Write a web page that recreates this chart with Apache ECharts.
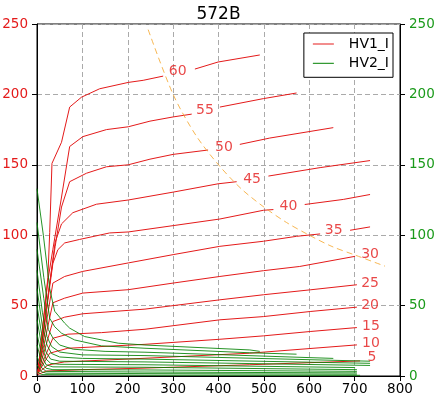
<!DOCTYPE html>
<html>
<head>
<meta charset="utf-8">
<title>572B</title>
<script src="https://cdn.jsdelivr.net/npm/echarts@6/dist/echarts.min.js"></script>
<style>
  html,body{margin:0;padding:0;background:#fff}
  #main{width:437px;height:398px}
</style>
</head>
<body>
<div id="main"></div>
<script>
// axis ticks
var xTicks = [0, 100, 200, 300, 400, 500, 600, 700, 800];
var yTicks = [0, 50, 100, 150, 200, 250];

// HV1_I (red), one curve per grid voltage; null = gap for the inline label
var hv1_60 = [[2,2],[24,70],[28,102],[33,151],[54,166],[72,191],[98,198],[138,204],[201,208.5],[234,210],[278,213],null,[348,218],[399,223],[491,228]];
var hv1_55 = [[2,2],[24,68],[35,90],[53,125],[72,163],[101,170],[153,175],[201,177],[249,181],[300,184],[341,186],null,[403,191],[499,197],[572,201]];
var hv1_50 = [[2,2],[28,66],[40,92],[54,120],[72,138],[109,144],[153,148.6],[201,150],[249,154],[300,157.4],[377,160.5],null,[447,164.5],[513,169],[653,176.4]];
var hv1_45 = [[2,2],[40,95],[54,108],[79,116],[131,122],[201,125],[300,130.6],[399,136.5],[440,138],null,[510,142],[624,148],[734,153]];
var hv1_40 = [[2,2],[35,80],[46,89.7],[61,94.5],[94,97],[160,101.6],[201,102.3],[300,106.8],[403,111.5],[499,117.7],[521,118.2],null,[590,121.8],[675,125.4],[734,128.9]];
var hv1_35 = [[2,2],[35,66],[61,70.7],[101,74.3],[201,80.3],[300,86.2],[403,92.1],[499,95.7],[572,99.2],[624,100.9],null,[690,103.5],[734,105.9]];
var hv1_30 = [[2,2],[35,52],[61,55.3],[101,58.9],[201,61.3],[300,66],[403,70.7],[499,74.8],[579,77.8],[701,85]];
var hv1_25 = [[2,2],[35,38.7],[61,41.8],[101,44.2],[238,47.5],[403,54.1],[499,57.7],[602,61.2],[705,64.8]];
var hv1_20 = [[2,2],[35,26.8],[68,29.7],[142,30.8],[238,33.2],[403,39.9],[499,42.2],[602,45.8],[705,48.9]];
var hv1_15 = [[2,2],[28,16.2],[68,19.7],[238,22.5],[403,26.1],[499,28.5],[602,31.6],[705,34.4]];
var hv1_10 = [[2,2],[24,7.8],[60,10],[238,12.6],[469,16.2],[705,22.1]];
var hv1_5  = [[2,1],[20,3.5],[100,4.5],[227,5.5],[469,8],[712,10.7]];

// HV2_I (green)
var hv2_60 = [[0,133],[14,100],[28,62],[39,46],[61,37.5],[72,34],[105,28],[179,23.3],[238,22],[469,18.5],[491,17.5]];
var hv2_55 = [[0,109],[15,70],[28,41],[39,35],[54,30.4],[83,25.6],[142,21.4],[238,19.7],[469,16.5],[572,15.5]];
var hv2_50 = [[0,90],[15,55],[25,33],[35,27],[50,22],[80,19],[150,17.5],[238,16.9],[653,12.5]];
var hv2_45 = [[0,75],[12,45],[22,28],[32,21],[50,17],[100,15],[238,14.5],[734,10.5]];
var hv2_40 = [[0,62],[12,35],[22,22],[32,16],[50,13.5],[100,12.5],[238,12],[734,9]];
var hv2_35 = [[0,50],[10,30],[20,17],[30,12],[50,10.5],[238,10],[734,7.5]];
var hv2_30 = [[0,40],[10,22],[20,12],[30,9],[50,8.3],[238,8],[701,6]];
var hv2_25 = [[0,30],[10,15],[20,8],[35,6.5],[238,6.2],[705,4.5]];
var hv2_20 = [[0,22],[10,10],[20,5.5],[35,4.5],[238,4.3],[705,3.3]];
var hv2_15 = [[0,14],[10,6],[20,3.3],[238,2.8],[705,2.2]];
var hv2_10 = [[0,8],[10,3],[20,2],[238,1.7],[705,1.3]];
var hv2_5  = [[0,3],[10,1],[238,0.6],[712,0.5]];

// curve labels
var labelText = ['60','55','50','45','40','35','30','25','20','15','10','5'];
var labelX = [310, 370, 412, 474, 554, 654, 734, 734, 734, 736, 736, 738];
var labelY = [216.5, 188.7, 162.4, 139.6, 120.2, 103.3, 86.1, 66, 50.1, 35.1, 23.3, 13.3];

// dissipation limit (dashed)
var pdX = [245, 300, 350, 400, 450, 500, 550, 600, 650, 700, 767];
var pdY = [246, 200, 171, 150, 133, 120, 109, 100, 92, 86, 78];

var redCurves = [hv1_60, hv1_55, hv1_50, hv1_45, hv1_40, hv1_35, hv1_30, hv1_25, hv1_20, hv1_15, hv1_10, hv1_5];
var greenCurves = [hv2_60, hv2_55, hv2_50, hv2_45, hv2_40, hv2_35, hv2_30, hv2_25, hv2_20, hv2_15, hv2_10, hv2_5];

var FONT = 'DejaVu Sans';
var RED = '#e41a1a';
var GREEN = 'rgba(0,128,0,0.85)';

// cut a curve at its nulls
function segments(arr){
  var out = [], cur = [];
  arr.forEach(function(p){
    if (p === null) { out.push(cur); cur = []; }
    else cur.push(p);
  });
  out.push(cur);
  return out;
}

var series = [];
redCurves.forEach(function(c){
  segments(c).forEach(function(seg){
    series.push({
      name: 'HV1_I', type: 'line', data: seg, symbol: 'none', silent: true,
      lineStyle: {color: RED, width: 1}, itemStyle: {color: RED}, z: 2
    });
  });
});
greenCurves.forEach(function(c){
  series.push({
    name: 'HV2_I', type: 'line', data: c, symbol: 'none', silent: true,
    lineStyle: {color: GREEN, width: 1}, itemStyle: {color: '#008000'}, z: 3
  });
});
series.push({
  name: 'Pd', type: 'line', symbol: 'none', silent: true, smooth: 0.3,
  data: pdX.map(function(x, i){ return [x, pdY[i]]; }),
  lineStyle: {color: 'rgba(245,165,40,0.8)', width: 1, type: [6, 4]}, z: 4
});
series.push({
  name: 'labels', type: 'scatter', symbolSize: 0, silent: true, z: 5,
  data: labelX.map(function(x, i){ return [x, labelY[i], labelText[i]]; }),
  label: {
    show: true, position: 'inside', color: RED, fontSize: 14, fontFamily: FONT,
    formatter: function(p){ return p.value[2]; }
  }
});

var chart = echarts.init(document.getElementById('main'));
chart.setOption({
  animation: false,
  backgroundColor: '#fff',
  title: {
    text: '572B', left: 'center', top: 1,
    textStyle: {fontSize: 17, fontWeight: 'normal', color: '#000', fontFamily: FONT}
  },
  legend: {
    data: [
      {name: 'HV1_I', icon: 'rect', itemStyle: {color: RED}},
      {name: 'HV2_I', icon: 'rect', itemStyle: {color: '#008000'}}
    ],
    orient: 'vertical', right: 44, top: 33,
    padding: [3, 4, 6, 9], itemGap: 3.3, itemWidth: 21, itemHeight: 1,
    backgroundColor: '#fff', borderColor: '#000', borderWidth: 1, borderRadius: 0,
    textStyle: {fontSize: 14, fontFamily: FONT, color: '#000', lineHeight: 16, padding: [0, 0, 0, 10]}
  },
  grid: {
    left: 37, right: 37, top: 24, bottom: 22,
    show: true, borderColor: '#000', borderWidth: 1,
    outerBoundsMode: 'none'
  },
  xAxis: {
    type: 'value', min: xTicks[0], max: xTicks[xTicks.length - 1], interval: 100,
    axisLine: {show: true, lineStyle: {color: '#000'}},
    axisTick: {show: true, length: 5, lineStyle: {color: '#000'}},
    axisLabel: {color: '#000', fontSize: 13.5, fontFamily: FONT, margin: 6},
    splitLine: {show: true, lineStyle: {color: '#aaa', type: [5, 3]}}
  },
  yAxis: [{
    type: 'value', min: yTicks[0], max: yTicks[yTicks.length - 1], interval: 50, position: 'left',
    axisLine: {show: true, lineStyle: {color: '#000'}},
    axisTick: {show: true, length: 5, lineStyle: {color: '#000'}},
    axisLabel: {color: RED, fontSize: 13.5, fontFamily: FONT, margin: 9},
    splitLine: {show: true, lineStyle: {color: '#aaa', type: [5, 3]}}
  }, {
    type: 'value', min: yTicks[0], max: yTicks[yTicks.length - 1], interval: 50, position: 'right',
    axisLine: {show: true, lineStyle: {color: '#000'}},
    axisTick: {show: true, length: 5, lineStyle: {color: '#000'}},
    axisLabel: {color: '#1a9a1a', fontSize: 13.5, fontFamily: FONT, margin: 9},
    splitLine: {show: false}
  }],
  series: series
});
</script>
</body>
</html>
